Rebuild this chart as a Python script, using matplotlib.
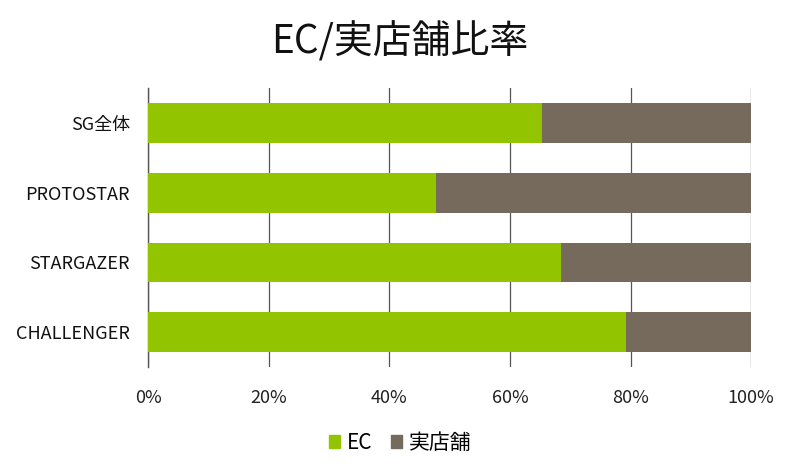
import matplotlib
matplotlib.use("Agg")
import matplotlib.pyplot as plt
from matplotlib.patches import Patch

plt.rcParams['font.family'] = ['Noto Sans CJK JP', 'DejaVu Sans']

categories = ["SG全体", "PROTOSTAR", "STARGAZER", "CHALLENGER"]
ec = [65.3, 47.8, 68.4, 79.2]
store = [100 - v for v in ec]
xticks = [0, 20, 40, 60, 80, 100]
xtick_labels = ["0%", "20%", "40%", "60%", "80%", "100%"]

green = "#93C400"
brown = "#756A5C"

fig = plt.figure(figsize=(8, 4.76), dpi=100)
ax = fig.add_axes([0.185, 0.229, 0.754, 0.586])

y = list(range(len(categories)))[::-1]
ax.barh(y, ec, height=0.57, color=green, zorder=3, label="EC")
ax.barh(y, store, left=ec, height=0.57, color=brown, zorder=3, label="実店舗")

ax.set_xlim(0, 100)
ax.set_ylim(-0.5, len(categories) - 0.5)
ax.set_xticks(xticks)
ax.set_xticklabels(xtick_labels, fontsize=13, color="#222222")
ax.set_yticks(y)
ax.set_yticklabels(categories, fontsize=13, color="#111111")
ax.tick_params(axis='both', length=0)
ax.tick_params(axis='y', pad=13)
ax.tick_params(axis='x', pad=16)
ax.grid(axis='x', color="#555555", linewidth=0.9, zorder=0)
for s in ["top", "right", "bottom"]:
    ax.spines[s].set_visible(False)
ax.spines["left"].set_color("#555555")
ax.spines["left"].set_linewidth(1.0)

fig.text(0.5, 0.912, "EC/実店舗比率", ha='center', va='center', fontsize=28, color="#111111")

handles = [Patch(color=green, label="EC"), Patch(color=brown, label="実店舗")]
fig.legend(handles=handles, loc='center', bbox_to_anchor=(0.5, 0.07), ncol=2, frameon=False,
           fontsize=15, handlelength=0.55, handleheight=0.55, handletextpad=0.3, columnspacing=0.9)

fig.savefig("out.png", dpi=100)
